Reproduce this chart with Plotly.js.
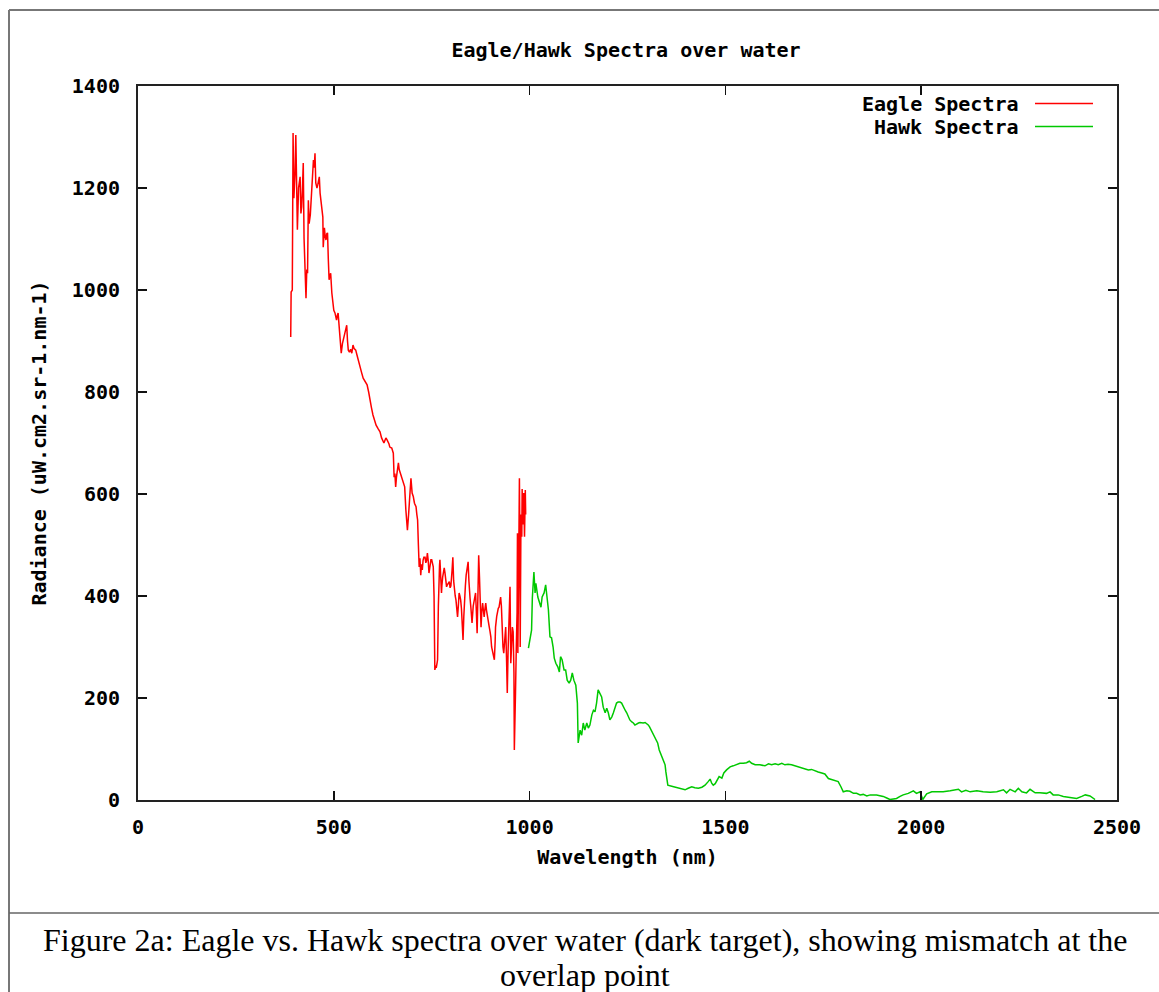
<!DOCTYPE html>
<html>
<head>
<meta charset="utf-8">
<script src="https://cdn.plot.ly/plotly-3.0.1.min.js"></script>
<style>
html,body{margin:0;padding:0;background:#fff;}
#chart{width:1159px;height:992px;}
</style>
</head>
<body>
<div id="chart"></div>
<script>
// Eagle spectrum (nm, radiance)
const eagleWl = [390,391,394,396,398,401,403,405,407,410,414,416,418,420,422,424,426,429,431,433,435,437,440,442,444,446,448,450,452,454,457,459,461,463,465,467,470,472,473,476,478,480,482,484,486,488,490,492,495,498,500,503,505,507,509,511,513,515,517,519,522,524,526,528,530,533,535,537,540,543,546,549,552,556,560,564,567,571,575,580,585,589,592,596,600,604,608,613,618,622,625,628,631,633,636,639,641,643,648,652,654,656,658,660,663,665,667,669,673,677,681,684,686,688,691,693,695,697,700,703,706,710,712,714,716,718,720,722,724,726,728,730,733,735,737,739,741,743,746,748,750,752,754,756,758,760,762,764,765,767,768,770,771,773,775,776,778,780,782,784,786,788,790,793,795,797,799,802,804,806,808,810,812,814,816,818,820,822,824,826,828,830,832,834,836,838,840,843,845,846,848,850,852,853,856,860,862,864,866,868,870,872,874,876,878,880,882,884,886,888,890,892,894,896,897,899,901,903,906,908,910,912,913,916,918,920,922,924,926,928,930,932,934,936,939,941,943,945,947,949,950,952,954,956,958,960,961,963,964,966,968,969,970,972,974,975,976,978,980,981,983,985,987,989,990];
const eagleRad = [908,996,1000,1308,1180,1229,1304,1240,1118,1200,1222,1150,1163,1200,1249,1102,1050,984,1040,1033,1176,1130,1147,1170,1196,1230,1255,1240,1268,1210,1200,1206,1215,1222,1190,1176,1150,1143,1084,1122,1105,1098,1110,1112,1060,1020,1028,1033,994,971,960,955,945,941,950,955,935,916,890,876,895,902,910,916,925,931,900,882,878,884,876,892,885,882,870,860,853,838,827,820,814,800,784,770,755,745,735,728,722,710,705,700,706,710,706,702,698,692,690,680,633,640,614,633,650,661,648,643,635,627,614,569,550,529,560,582,610,631,602,595,582,575,560,549,500,457,474,441,462,451,470,476,476,465,470,484,470,445,460,471,471,465,457,400,255,262,261,270,275,380,445,460,471,440,406,420,437,450,455,445,430,418,422,425,428,416,420,450,476,430,406,400,392,375,359,380,406,400,392,375,353,314,360,406,420,441,455,467,430,406,395,378,360,347,380,400,406,370,327,400,480,437,390,339,370,386,372,359,375,386,372,359,350,345,339,330,320,300,288,280,275,310,339,360,373,376,378,390,398,380,314,300,288,310,339,280,210,290,353,380,418,268,300,339,330,250,98,150,210,300,367,523,288,450,631,520,300,560,516,610,540,602,516,608,560];

// Hawk spectrum (nm, radiance)
const hawkWl = [997,1001,1005,1007,1011,1014,1016,1021,1025,1029,1032,1037,1041,1044,1048,1052,1056,1060,1063,1067,1072,1076,1079,1083,1088,1092,1096,1101,1105,1109,1113,1118,1122,1124,1129,1133,1137,1141,1146,1150,1154,1159,1163,1167,1171,1175,1180,1184,1188,1193,1197,1201,1205,1210,1214,1218,1222,1226,1231,1235,1239,1244,1248,1252,1256,1261,1265,1269,1274,1278,1282,1290,1295,1299,1303,1306,1312,1316,1320,1322,1327,1331,1336,1341,1346,1348,1350,1353,1363,1371,1380,1388,1397,1405,1414,1422,1431,1440,1448,1456,1461,1465,1469,1474,1479,1484,1491,1496,1503,1512,1520,1529,1537,1546,1554,1561,1567,1576,1588,1601,1610,1618,1627,1635,1644,1652,1660,1669,1678,1686,1695,1703,1712,1720,1729,1737,1746,1754,1763,1771,1780,1788,1795,1801,1810,1818,1827,1835,1844,1852,1861,1870,1886,1895,1903,1912,1920,1929,1937,1946,1954,1967,1980,1988,1997,2004,2014,2027,2040,2056,2074,2086,2095,2103,2114,2125,2142,2158,2176,2193,2210,2218,2227,2240,2248,2257,2269,2278,2291,2303,2320,2329,2337,2350,2363,2380,2397,2410,2419,2431,2444];
const hawkRad = [298,314,333,396,447,406,425,398,386,378,398,406,422,400,373,320,318,300,278,268,261,251,281,275,255,255,235,229,235,249,235,225,190,112,137,127,151,137,151,141,147,167,176,173,190,216,206,202,182,171,180,171,157,163,171,180,190,192,192,190,182,176,171,163,157,153,151,147,150,151,152,151,152,150,147,144,134,127,121,118,112,98,88,78,69,55,39,29,27,25,23,22,20,23,26,24,23,25,29,36,41,33,29,32,39,46,43,53,59,65,67,69,72,72,73,76,72,69,69,67,71,69,71,69,72,69,70,69,67,65,63,61,59,60,57,55,53,51,42,40,39,36,26,16,18,17,13,13,10,11,8,10,10,9,7,4,1,2,3,7,10,13,18,13,16,1,12,16,16,16,18,20,21,16,19,16,18,16,15,16,20,14,21,16,23,16,14,21,14,14,13,16,10,10,7,5,3,7,10,8,1];

const seriesNames = ['Eagle Spectra', 'Hawk Spectra'];
const seriesColors = ['#ff0000', '#00c800'];
const chartTitle = 'Eagle/Hawk Spectra over water';
const xTitle = 'Wavelength (nm)';
const yTitle = 'Radiance (uW.cm2.sr-1.nm-1)';
const captionLines = ['Figure 2a: Eagle vs. Hawk spectra over water (dark target), showing mismatch at the', 'overlap point'];

const monoFont = {family: 'DejaVu Sans Mono, monospace', size: 20, color: '#000', weight: 'bold'};
const serifFont = {family: 'Liberation Serif, serif', size: 32, color: '#000'};

const traces = [
  {x: eagleWl, y: eagleRad, type: 'scatter', mode: 'lines', name: seriesNames[0],
   line: {color: seriesColors[0], width: 1.5}, showlegend: false},
  {x: hawkWl, y: hawkRad, type: 'scatter', mode: 'lines', name: seriesNames[1],
   line: {color: seriesColors[1], width: 1.5}, showlegend: false}
];

// frame geometry in paper units (plot area 138..1117 x, 86..800 y)
const L = 138, R = 1117, T = 86, B = 800;
const px = v => (v - L) / (R - L);
const py = v => (B - v) / (B - T);

const layout = {
  width: 1159, height: 992,
  margin: {l: L, r: 1159 - R, t: T, b: 992 - B, pad: 0},
  paper_bgcolor: '#fff', plot_bgcolor: '#fff',
  showlegend: false,
  title: {text: chartTitle, font: monoFont, x: px(626), xref: 'paper', xanchor: 'center',
          y: 1 - 50/992, yref: 'container', yanchor: 'middle'},
  xaxis: {range: [0, 2500], dtick: 500, tick0: 0, showgrid: false, zeroline: false,
          showline: true, linecolor: '#222', linewidth: 2, mirror: 'ticks',
          ticks: 'inside', ticklen: 9, tickwidth: 1.5, tickcolor: '#111',
          tickfont: monoFont, ticklabelstandoff: 8,
          title: {text: xTitle, font: monoFont, standoff: 12}},
  yaxis: {range: [0, 1400], dtick: 200, tick0: 0, showgrid: false, zeroline: false,
          showline: true, linecolor: '#222', linewidth: 2, mirror: 'ticks',
          ticks: 'inside', ticklen: 9, tickwidth: 1.5, tickcolor: '#111',
          tickfont: monoFont, ticklabelstandoff: 12,
          title: {text: yTitle, font: monoFont, standoff: 20}},
  annotations: [
    {text: seriesNames[0], xref: 'paper', yref: 'paper', x: px(1021), y: py(104),
     xanchor: 'right', yanchor: 'middle', showarrow: false, font: monoFont},
    {text: seriesNames[1], xref: 'paper', yref: 'paper', x: px(1021), y: py(127),
     xanchor: 'right', yanchor: 'middle', showarrow: false, font: monoFont},
    {text: captionLines[0], xref: 'paper', yref: 'paper', x: px(585), y: py(940),
     xanchor: 'center', yanchor: 'middle', showarrow: false, font: serifFont},
    {text: captionLines[1], xref: 'paper', yref: 'paper', x: px(585), y: py(975),
     xanchor: 'center', yanchor: 'middle', showarrow: false, font: serifFont}
  ],
  shapes: [
    {type: 'line', xref: 'paper', yref: 'paper', x0: px(1035), x1: px(1093), y0: py(103.5), y1: py(103.5),
     line: {color: seriesColors[0], width: 1.5}},
    {type: 'line', xref: 'paper', yref: 'paper', x0: px(1035), x1: px(1093), y0: py(126.5), y1: py(126.5),
     line: {color: seriesColors[1], width: 1.5}},
    {type: 'line', xref: 'paper', yref: 'paper', x0: px(9), x1: px(9), y0: py(10), y1: py(992),
     line: {color: '#777', width: 2}},
    {type: 'line', xref: 'paper', yref: 'paper', x0: px(9), x1: px(1159), y0: py(10), y1: py(10),
     line: {color: '#777', width: 2}},
    {type: 'line', xref: 'paper', yref: 'paper', x0: px(9), x1: px(1159), y0: py(913), y1: py(913),
     line: {color: '#666', width: 1.5}}
  ]
};

Plotly.newPlot('chart', traces, layout, {staticPlot: true, displayModeBar: false});
</script>
</body>
</html>
